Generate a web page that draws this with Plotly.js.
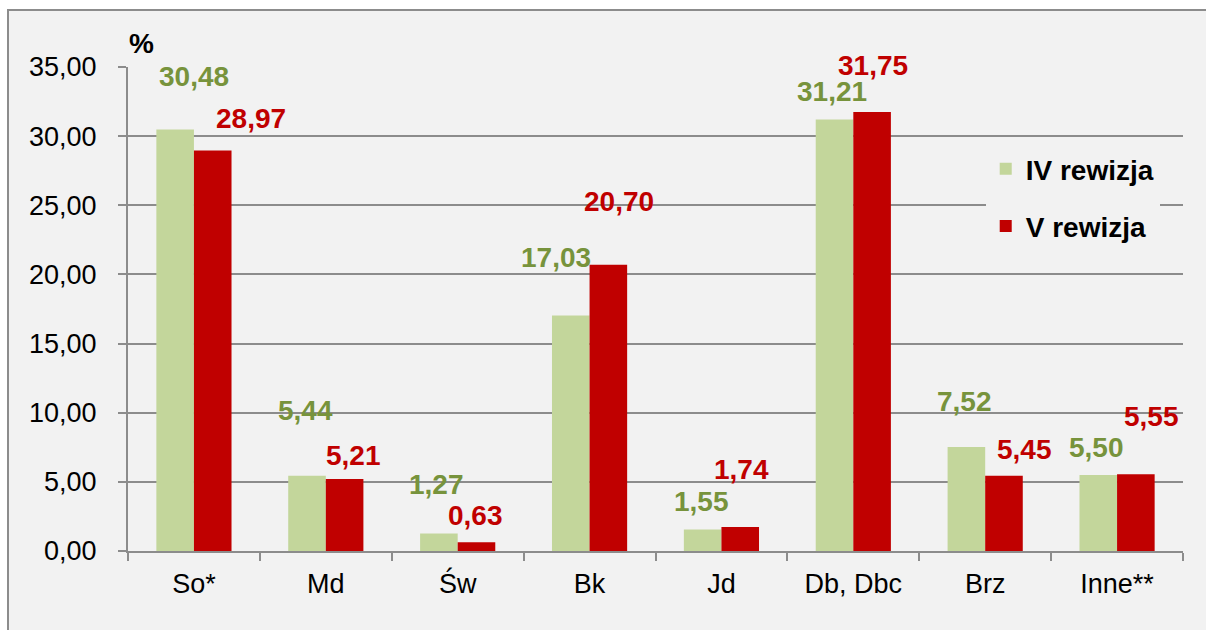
<!DOCTYPE html>
<html>
<head>
<meta charset="utf-8">
<script src="https://cdn.plot.ly/plotly-3.0.1.min.js"></script>
<style>
  html, body { margin: 0; padding: 0; background: #ffffff; overflow: hidden; }
  #frame { position: absolute; left: 7px; top: 9px; width: 1220px; height: 640px;
           background: #f2f2f2; border-left: 2px solid #8c8c8c; border-top: 2px solid #8c8c8c; }
  #chart { position: absolute; left: 0; top: 0; width: 1206px; height: 630px; }
</style>
</head>
<body>
<div id="frame"></div>
<div id="chart"></div>
<script>
// ---- data ----
const categories = ["So*", "Md", "Św", "Bk", "Jd", "Db, Dbc", "Brz", "Inne**"];
const seriesIV = [30.48, 5.44, 1.27, 17.03, 1.55, 31.21, 7.52, 5.50];
const seriesV  = [28.97, 5.21, 0.63, 20.70, 1.74, 31.75, 5.45, 5.55];
const nameIV = "IV rewizja";
const nameV = "V rewizja";
const yTicks = [0, 5, 10, 15, 20, 25, 30, 35];

// ---- label placement (pixels, layout only) ----
const shiftIV = { dx: [0, -20, -21, -34, -20, -21, -21, -21], dy: [53, 65, 49, 58, 28, 28, 46, 27] };
const shiftV  = { dx: [57, 28, 18, 29, 20, 20, 39, 34],       dy: [32, 23, 27, 63, 57, 46, 26, 58] };

const green = "#c3d69b", red = "#c00000";
const greenText = "#77933c", redText = "#c00000";
const FONT = "Arial, 'Liberation Sans', sans-serif";
const fmt = v => v.toFixed(2).replace(".", ",");

const traces = [
  { type: "bar", name: nameIV, x: categories, y: seriesIV, marker: { color: green },
    legendgroup: "iv", hoverinfo: "skip" },
  { type: "bar", name: nameV, x: categories, y: seriesV, marker: { color: red },
    legendgroup: "v", hoverinfo: "skip" }
];

const annotations = [];
categories.forEach((c, i) => {
  annotations.push({ xref: "x", yref: "y", x: c, y: seriesIV[i], text: fmt(seriesIV[i]),
    showarrow: false, xshift: shiftIV.dx[i], yshift: shiftIV.dy[i], yanchor: "middle",
    font: { family: FONT, size: 28, color: greenText, weight: "bold" } });
  annotations.push({ xref: "x", yref: "y", x: c, y: seriesV[i], text: fmt(seriesV[i]),
    showarrow: false, xshift: shiftV.dx[i], yshift: shiftV.dy[i], yanchor: "middle",
    font: { family: FONT, size: 28, color: redText, weight: "bold" } });
});
annotations.push({ xref: "paper", yref: "paper", x: 0, y: 1, xanchor: "left", yanchor: "bottom",
  xshift: -1, yshift: 6, text: "<b>%</b>", showarrow: false,
  font: { family: FONT, size: 28, color: "#000" } });

const layout = {
  width: 1206, height: 630,
  margin: { l: 128, r: 23, t: 67, b: 79, pad: 0 },
  paper_bgcolor: "rgba(0,0,0,0)", plot_bgcolor: "rgba(0,0,0,0)",
  separators: ", ",
  barmode: "group", bargap: 0.43, bargroupgap: 0,
  font: { family: FONT, size: 27, color: "#000" },
  showlegend: true,
  legend: { x: 0.813, y: 0.841, xanchor: "left", yanchor: "top", bgcolor: "#f2f2f2",
            font: { family: FONT, size: 28, color: "#000", weight: "bold" },
            tracegroupgap: 18, traceorder: "grouped" },
  xaxis: { type: "category", showline: true, linecolor: "#8c8c8c", linewidth: 2,
           ticks: "outside", tickson: "boundaries", ticklen: 8, tickwidth: 2, tickcolor: "#8c8c8c",
           showgrid: false, tickfont: { family: FONT, size: 27 }, ticklabelstandoff: 8 },
  yaxis: { range: [0, 35], tickvals: yTicks, tickformat: ".2f", showline: true,
           linecolor: "#8c8c8c", linewidth: 2, ticks: "outside", ticklen: 8, tickwidth: 2,
           tickcolor: "#8c8c8c", showgrid: true, gridcolor: "#8c8c8c", gridwidth: 2,
           zeroline: false, tickfont: { family: FONT, size: 27 }, ticklabelstandoff: 16 },
  annotations: annotations
};

Plotly.newPlot("chart", traces, layout, { displayModeBar: false, staticPlot: true });
</script>
</body>
</html>
